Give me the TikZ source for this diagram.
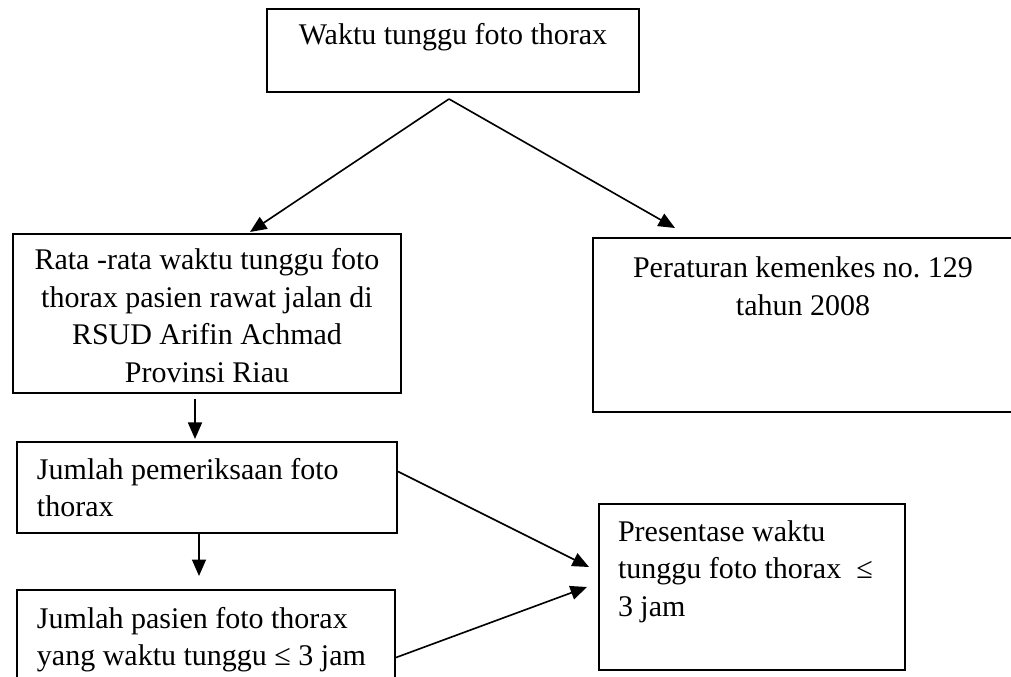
\documentclass[tikz,border=0pt]{standalone}
\usepackage{fontspec}
\setmainfont{Liberation Serif}
\usetikzlibrary{arrows.meta}

\begin{document}
\begin{tikzpicture}[x=0.4pt,y=0.4pt,yscale=-1,
  box/.style={draw, line width=0.8pt, inner sep=0pt, font=\fontsize{12}{15}\selectfont},
  arr/.style={line width=0.65pt, -{Triangle[length=6.6pt,width=5.6pt]}}]
\clip (0,0) rectangle (1011,677);

% Text Node
\draw (453,50.5) node [box] (wt) {\begin{minipage}[c][33.2pt][t]{148.8pt}\centering
\rule{0pt}{14.4pt}Waktu tunggu foto thorax
\end{minipage}};
% Text Node
\draw (207,313.5) node [box] (rr) {\begin{minipage}[c][63.6pt][t]{155.2pt}\centering
\rule{0pt}{14.4pt}Rata -rata waktu tunggu foto\\
thorax pasien rawat jalan di\\
RSUD Arifin Achmad\\
Provinsi Riau
\end{minipage}};
% Text Node
\draw (803,325) node [box] (pk) {\begin{minipage}[c][69.6pt][t]{168pt}\centering
\rule{0pt}{16pt}Peraturan kemenkes no.\ 129\\
tahun 2008
\end{minipage}};
% Text Node
\draw (207,487.5) node [box] (jp) {\begin{minipage}[c][36.4pt][t]{152pt}\raggedright\leftskip=8pt
\rule{0pt}{14.8pt}Jumlah pemeriksaan foto\\
thorax
\end{minipage}};
% Text Node
\draw (206,645) node [box] (jpt) {\begin{minipage}[c][44pt][t]{151.2pt}\raggedright\leftskip=8pt
\rule{0pt}{15.2pt}Jumlah pasien foto thorax\\
yang waktu tunggu ≤ 3 jam
\end{minipage}};
% Text Node
\draw (752,587) node [box] (pw) {\begin{minipage}[c][66.4pt][t]{122.4pt}\raggedright\leftskip=7.6pt
\rule{0pt}{14.8pt}Presentase waktu\\
tunggu foto thorax~ ≤\\
3 jam
\end{minipage}};

%Straight Lines
\draw [arr] ([shift={(-1.6pt,2.4pt)}]wt.south) -- ([shift={(17.2pt,-0.4pt)}]rr.north) ;
%Straight Lines
\draw [arr] ([shift={(-1.6pt,2.4pt)}]wt.south) -- ([shift={(-51.2pt,-3.6pt)}]pk.north) ;
%Straight Lines
\draw [arr, shorten <=2pt, shorten >=0.8pt] ([xshift=-4.8pt]rr.south) -- ([xshift=-4.8pt]jp.north) ;
%Straight Lines
\draw [arr, shorten >=5.2pt] ([xshift=-3.2pt]jp.south) -- ([xshift=-2.8pt]jpt.north) ;
%Straight Lines
\draw [arr] ([yshift=-6.4pt]jp.east) -- ([shift={(-3.6pt,-8pt)}]pw.west) ;
%Straight Lines
\draw [arr] ([yshift=27.4pt]jpt.north east) -- ([xshift=-4.4pt]pw.west) ;

\end{tikzpicture}
\end{document}
